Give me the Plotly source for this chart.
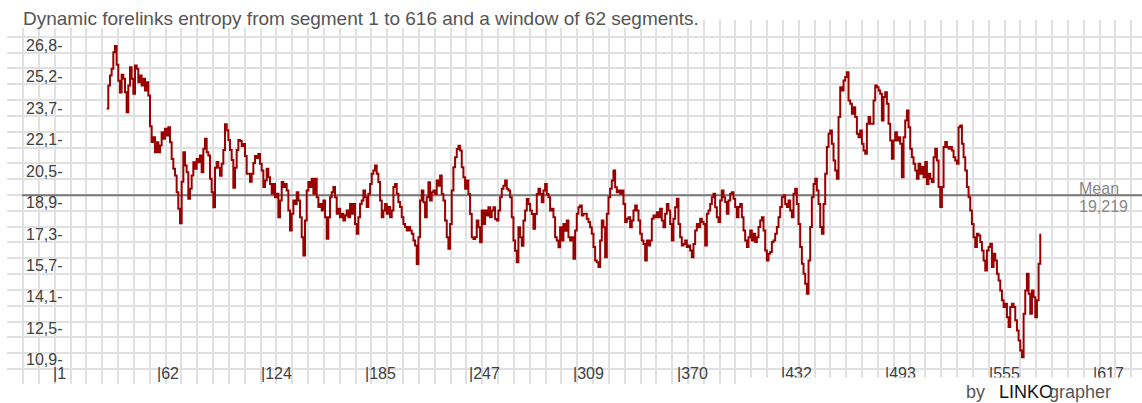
import numpy as np
import plotly.graph_objects as go

title_text = "Dynamic forelinks entropy from segment 1 to 616 and a window of 62 segments."

# windowed entropy, in segment order
first_segment = 32
last_segment = 585

entropy_1 = [23.6, 24.75, 25.26, 25.6, 26.44, 26.75, 25.8, 25.0, 24.4, 25.3,
             25.1, 24.42, 23.41, 24.76, 25.68, 25.1, 24.34, 25.77, 25.6, 24.92,
             25.26, 24.76, 25.1, 24.5, 24.92, 24.25, 22.7, 21.9, 22.15, 21.39,
             21.89, 21.39, 21.73, 22.4, 22.07, 22.57, 22.23, 22.65, 21.89, 21.05,
             20.55, 20.21, 19.37, 18.53, 17.8, 19.9, 21.39, 20.72, 20.38, 19.04,
             19.54, 20.21, 20.88, 20.55, 21.05, 20.88, 21.22, 20.38, 21.56, 22.07,
             21.39, 21.22, 20.05, 19.37, 18.61, 20.6, 20.9, 20.6, 20.2, 20.8,
             21.5, 22.8, 22.5, 22.0, 21.5, 21.0, 19.6, 20.6, 21.5, 22.0,
             21.95, 21.7, 21.8, 21.2, 20.3, 20.3, 19.9, 20.3, 20.85, 21.2,
             21.1, 21.3]

entropy_2 = [20.8, 20.47, 19.63, 19.96, 20.55, 20.13, 19.79, 19.29, 19.79, 19.12,
             19.29, 18.11, 18.95, 19.88, 19.63, 19.79, 19.46, 18.45, 17.44, 18.28,
             18.95, 18.78, 19.37, 18.95, 18.11, 17.1, 16.18, 17.94, 19.46, 19.88,
             19.63, 20.05, 19.29, 20.05, 19.12, 18.62, 18.78, 18.45, 18.95, 18.11,
             17.02, 18.11, 19.12, 19.37, 19.63, 19.12, 18.28, 18.53, 18.11, 18.28,
             17.94, 18.2, 18.45, 18.11, 18.78, 18.28, 18.78, 17.77, 17.27, 18.11,
             18.78, 18.95, 19.46, 19.12, 18.62, 19.29, 19.79, 20.3, 20.47, 20.72,
             20.3, 19.88, 18.95, 18.11, 18.45, 18.78, 18.28, 18.62, 18.11, 18.45,
             19.63, 19.79, 19.29, 18.87, 18.62, 18.11, 17.77, 17.61, 17.44, 17.61,
             17.44, 17.27, 16.93, 16.68]

entropy_3 = [15.75, 17.1, 18.95, 19.45, 18.86, 18.11, 19.12, 19.87, 18.95, 19.37,
             19.45, 19.28, 19.96, 19.7, 20.21, 19.28, 18.95, 17.94, 17.1, 16.51,
             17.77, 19.45, 20.63, 21.13, 21.55, 21.72, 21.47, 20.63, 20.12, 19.54,
             19.96, 19.28, 18.27, 17.1, 17.01, 17.1, 17.94, 17.6, 16.84, 18.44,
             17.77, 18.44, 18.19, 18.61, 18.11, 18.44, 18.61, 18.02, 17.94, 18.44,
             19.12, 19.54, 19.7, 19.96, 19.54, 19.45, 19.12, 18.11, 16.93, 16.42,
             15.83, 17.6, 17.1, 16.67, 17.94, 18.44, 19.03, 18.78, 18.44, 18.27,
             17.52, 18.27, 19.28, 19.54, 19.28, 18.86, 19.45, 19.79, 19.28, 19.12,
             18.44, 18.53, 18.11, 17.1, 16.93, 16.59, 17.6, 16.93, 17.77, 17.43,
             17.94, 17.1, 16.93]

entropy_4 = [17.1, 16.01, 17.44, 18.28, 18.61, 18.7, 18.2, 18.28, 18.28, 18.03,
             17.86, 17.6, 17.27, 16.6, 15.92, 15.84, 15.59, 16.93, 17.94, 17.6,
             16.09, 18.28, 19.12, 19.54, 19.96, 20.47, 19.62, 19.37, 19.46, 19.29,
             19.46, 18.78, 17.86, 18.03, 18.11, 17.6, 17.94, 18.45, 18.7, 18.45,
             17.94, 17.27, 16.93, 16.76, 15.92, 16.93, 16.68, 16.93, 18.03, 18.2,
             18.11, 18.36, 18.11, 18.53, 17.94, 17.6, 18.28, 18.78, 18.45, 17.77,
             16.93, 18.03, 18.61, 19.04, 17.77, 17.1, 16.68, 16.76, 16.93, 16.6,
             16.68, 16.43, 16.09, 16.76, 17.44, 17.77, 17.6, 18.03, 17.86, 17.77,
             16.68, 18.28, 18.45, 18.78, 19.12, 19.29, 18.61, 18.11, 17.86, 18.95,
             19.46, 19.12, 18.87]

entropy_5 = [18.28, 18.95, 19.29, 19.37, 19.04, 18.62, 18.11, 18.62, 18.78, 18.11,
             17.44, 16.93, 16.6, 17.1, 17.44, 16.93, 17.27, 16.85, 17.1, 17.61,
             17.94, 18.11, 17.44, 16.43, 15.92, 16.26, 16.35, 16.85, 16.93, 17.27,
             17.61, 18.11, 18.62, 19.12, 19.21, 18.78, 18.62, 18.95, 18.45, 18.11,
             19.29, 19.54, 18.78, 17.77, 16.6, 15.76, 15.25, 14.75, 14.24, 15.92,
             17.61, 19.12, 19.79, 20.05, 19.46, 18.78, 17.61, 17.27, 18.78, 20.3,
             21.65, 22.32, 22.49, 21.81, 20.97, 20.47, 20.05, 23.16, 24.67, 24.5,
             25.01, 25.18, 25.43, 24.0, 23.83, 23.33, 23.66, 23.16, 22.32, 22.15,
             22.49, 21.81, 21.48, 21.31, 22.82, 23.16, 22.82, 22.82, 24.0, 24.76,
             24.67, 24.5, 24.34]

entropy_6 = [22.99, 24.17, 24.42, 23.83, 22.82, 21.98, 21.06, 21.98, 22.4, 21.98,
             22.15, 21.81, 20.13, 22.15, 22.99, 23.5, 22.65, 21.56, 21.14, 20.8,
             20.47, 20.05, 20.8, 20.3, 20.64, 20.13, 20.89, 19.79, 20.3, 20.05,
             19.88, 21.14, 21.56, 20.97, 19.63, 18.62, 19.63, 21.65, 21.9, 21.65,
             21.56, 21.65, 21.48, 21.14, 20.97, 20.8, 22.65, 22.74, 21.81, 21.14,
             20.47, 19.63, 19.12, 18.45, 17.77, 17.1, 16.6, 17.27, 17.19, 16.85,
             16.43, 15.92, 15.42, 16.43, 16.6, 16.77, 15.59, 16.26, 15.92, 15.25,
             14.91, 14.41, 13.91, 13.57, 13.74, 13.06, 12.56, 13.57, 13.74, 13.57,
             12.9, 12.39, 11.89, 11.38, 11.04, 13.23, 14.41, 15.25, 14.24, 13.23,
             14.41, 14.07, 13.06, 13.91, 15.76, 17.27]

mean_value = 19.219
mean_text = "19,219"

y_tick_values = [10.9, 12.49, 14.08, 15.67, 17.26, 18.85, 20.44, 22.03, 23.62, 25.21, 26.8]
y_tick_labels = ["10,9-", "12,5-", "14,1-", "15,7-", "17,3-", "18,9-",
                 "20,5-", "22,1-", "23,7-", "25,2-", "26,8-"]
x_tick_values = [1, 62.6, 124.2, 185.8, 247.4, 309.0, 370.6, 432.2, 493.8, 555.4, 617.0]
x_tick_labels = ["|1", "|62", "|124", "|185", "|247", "|309",
                 "|370", "|432", "|493", "|555", "|617"]

entropy = entropy_1 + entropy_2 + entropy_3 + entropy_4 + entropy_5 + entropy_6
segments = np.linspace(first_segment, last_segment, len(entropy))

# ---------------- layout geometry (pixels) ----------------
W, H = 1142, 403
L, R, T, B = 7, 0, 20, 19
PW, PH = W - L - R, H - T - B


def px(xp):
    return (xp - L) / PW


def py(yp):
    return (H - B - yp) / PH


FONT = "Liberation Sans, Arial, sans-serif"
GRID = "#e0e0e0"

# axis scale: segment 1 at x=54.3 px, 1.6883 px per segment; 18.85 at y=202.5 px, 19.81 px per unit
x_lo = 1 + (L - 54.3) / 1.6883
x_hi = 1 + (W - R - 54.3) / 1.6883
y_hi = 18.85 + (202.5 - T) / 19.81
y_lo = 18.85 - (H - B - 202.5) / 19.81
mean_start = 1 + (22 - 54.3) / 1.6883

fig = go.Figure()
# mean reference line (under the data line)
fig.add_trace(go.Scatter(
    x=[mean_start, x_hi], y=[mean_value, mean_value], mode="lines",
    line=dict(color="#777777", width=2),
    hoverinfo="skip", showlegend=False, cliponaxis=False,
))
fig.add_trace(go.Scatter(
    x=segments, y=entropy, mode="lines",
    line=dict(color="#9b0000", width=2, shape="hv"),
    hoverinfo="skip", showlegend=False,
))

annotations = [
    dict(text=title_text, xref="paper", yref="paper", x=px(22), y=py(18),
         xanchor="left", yanchor="middle", showarrow=False, borderpad=0,
         font=dict(family=FONT, size=19, color="#555555")),
]
for v, t in zip(y_tick_values, y_tick_labels):
    annotations.append(dict(text=t, xref="paper", yref="y", x=px(25), y=v,
                            xanchor="left", yanchor="middle", showarrow=False, borderpad=0,
                            font=dict(family=FONT, size=16, color="#404040")))
for v, t in zip(x_tick_values, x_tick_labels):
    annotations.append(dict(text=t, xref="x", yref="paper", x=v, y=py(373), xshift=-2,
                            xanchor="left", yanchor="middle", showarrow=False, borderpad=0,
                            font=dict(family=FONT, size=16, color="#404040")))
# white strip under the credit line, hiding the lower part of the right tick labels
annotations.append(dict(text=" ", xref="paper", yref="paper", x=px(745), y=py(377),
                        xanchor="left", yanchor="top", width=420, height=30,
                        bgcolor="white", showarrow=False, borderpad=0,
                        font=dict(family=FONT, size=12, color="white")))
annotations += [
    dict(text="Mean", xref="paper", yref="paper", x=px(1078), y=py(188),
         xanchor="left", yanchor="middle", showarrow=False, borderpad=0,
         font=dict(family=FONT, size=16, color="#888888")),
    dict(text=mean_text, xref="paper", yref="paper", x=px(1078), y=py(207),
         xanchor="left", yanchor="middle", showarrow=False, borderpad=0,
         font=dict(family=FONT, size=16, color="#888888")),
    dict(text="by", xref="paper", yref="paper", x=px(965), y=py(392),
         xanchor="left", yanchor="middle", showarrow=False, borderpad=0,
         font=dict(family=FONT, size=18, color="#555555")),
    dict(text="LINKO", xref="paper", yref="paper", x=px(998), y=py(392),
         xanchor="left", yanchor="middle", showarrow=False, borderpad=0,
         font=dict(family=FONT, size=18, color="#111111")),
    dict(text="grapher", xref="paper", yref="paper", x=px(1048), y=py(392),
         xanchor="left", yanchor="middle", showarrow=False, borderpad=0,
         font=dict(family=FONT, size=18, color="#555555")),
]

shapes = [
    dict(type="rect", xref="paper", yref="paper", x0=px(0) - 0.01, x1=px(700),
         y0=py(28), y1=py(-5), fillcolor="white", line=dict(width=0), layer="above"),
]

fig.update_layout(
    width=W, height=H,
    margin=dict(l=L, r=R, t=T, b=B, pad=0),
    paper_bgcolor="white", plot_bgcolor="white",
    showlegend=False,
    xaxis=dict(range=[x_lo, x_hi], showgrid=True, gridcolor=GRID, gridwidth=2,
               tickmode="linear", tick0=1 + (7.3 - 54.3) / 1.6883, dtick=15.83 / 1.6883,
               showticklabels=False, ticks="", zeroline=False, showline=False, fixedrange=True),
    yaxis=dict(range=[y_lo, y_hi], showgrid=True, gridcolor=GRID, gridwidth=2,
               tickmode="linear", tick0=18.85 + (202.5 - 36.7) / 19.81, dtick=15.83 / 19.81,
               showticklabels=False, ticks="", zeroline=False, showline=False, fixedrange=True),
    annotations=annotations,
    shapes=shapes,
)

fig.write_html(
    "out.html",
    config={"displayModeBar": False, "staticPlot": True},
    post_script="document.body.style.margin='0px';document.body.style.overflow='hidden';",
)
